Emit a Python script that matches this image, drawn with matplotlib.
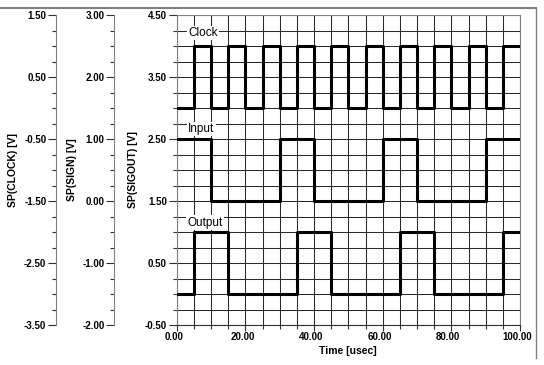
import matplotlib
matplotlib.use("Agg")
import matplotlib.pyplot as plt
import matplotlib.ticker as mticker
from matplotlib.lines import Line2D
from matplotlib.transforms import ScaledTranslation

plt.rcParams['font.family'] = ['Liberation Sans', 'DejaVu Sans']

# signal data (time in usec, logic level in V)
clock_t = [0, 5, 10, 15, 20, 25, 30, 35, 40, 45, 50, 55, 60, 65, 70, 75, 80, 85, 90, 95, 100]
clock_v = [0, 1, 0, 1, 0, 1, 0, 1, 0, 1, 0, 1, 0, 1, 0, 1, 0, 1, 0, 1, 1]
input_t = [0, 10, 30, 40, 60, 70, 90, 100]
input_v = [1, 0, 1, 0, 1, 0, 1, 1]
output_t = [0, 5, 15, 35, 45, 65, 75, 95, 100]
output_v = [0, 1, 0, 1, 0, 1, 0, 1, 1]

clock_lim = (-3.5, 1.5)
sign_lim = (-2.0, 3.0)
sigout_lim = (-0.5, 4.5)
x_ticks = [0, 20, 40, 60, 80, 100]

dpi = 100
fig = plt.figure(figsize=(544 / dpi, 365 / dpi), dpi=dpi)
rect = [176.7 / 544, 1 - 325 / 365, (520 - 176.7) / 544, (325 - 15) / 365]

spine_col = '#808080'

def style_left(a, lim, label, label_x):
    a.set_ylim(*lim)
    a.yaxis.set_major_locator(mticker.MultipleLocator(1.0, offset=lim[0] % 1.0))
    a.yaxis.set_minor_locator(mticker.MultipleLocator(0.25))
    a.yaxis.set_major_formatter(mticker.FormatStrFormatter('%.2f'))
    a.tick_params(axis='y', which='major', length=6, width=0.8, color='#303030',
                  pad=1, labelsize=7)
    a.tick_params(axis='y', which='minor', length=3, width=0.8, color='#303030')
    for t in a.get_yticklabels():
        t.set_fontweight('bold')
    a.spines['left'].set_color(spine_col)
    a.set_ylabel(label, fontsize=7.5, fontweight='bold')
    a.yaxis.set_label_coords(label_x, 0.5)

# main axis (SIGOUT)
ax = fig.add_axes(rect)
ax.set_xlim(0, 100)
ax.xaxis.set_major_locator(mticker.FixedLocator(x_ticks))
ax.xaxis.set_minor_locator(mticker.MultipleLocator(5))
ax.xaxis.set_major_formatter(mticker.FormatStrFormatter('%.2f'))
ax.tick_params(axis='x', which='major', length=4, width=0.8, color='#303030', pad=1, labelsize=7)
ax.tick_params(axis='x', which='minor', length=3, width=0.8, color='#303030')
for t in ax.get_xticklabels():
    t.set_fontweight('bold')
    t.set_transform(t.get_transform() + ScaledTranslation(-3 / dpi, 0, fig.dpi_scale_trans))
ax.set_xlabel('Time [usec]', fontsize=7.5, fontweight='bold', labelpad=3)
style_left(ax, sigout_lim, 'SP(SIGOUT) [V]', -0.113)
ax.grid(True, which='both', color='#2a2a2a', linewidth=0.75)
ax.set_axisbelow(True)
for s in ['top', 'right']:
    ax.spines[s].set_color(spine_col)
ax.spines['bottom'].set_color('#303030')
ax.plot(output_t, output_v, drawstyle='steps-post', color='black', lw=2.2, zorder=5)

# SIGN axis
ax_s = fig.add_axes(rect, sharex=ax)
ax_s.patch.set_visible(False)
for s in ['top', 'right', 'bottom']:
    ax_s.spines[s].set_visible(False)
ax_s.spines['left'].set_position(('axes', -62.4 / 343.3))
ax_s.xaxis.set_visible(False)
style_left(ax_s, sign_lim, 'SP(SIGN) [V]', -0.290)
ax_s.plot(input_t, input_v, drawstyle='steps-post', color='black', lw=2.2, zorder=5)

# CLOCK axis
ax_c = fig.add_axes(rect, sharex=ax)
ax_c.patch.set_visible(False)
for s in ['top', 'right', 'bottom']:
    ax_c.spines[s].set_visible(False)
ax_c.spines['left'].set_position(('axes', -120.7 / 343.3))
ax_c.xaxis.set_visible(False)
style_left(ax_c, clock_lim, 'SP(CLOCK) [V]', -0.462)
ax_c.plot(clock_t, clock_v, drawstyle='steps-post', color='black', lw=2.2, zorder=5)

box = dict(facecolor='white', edgecolor='none', pad=1)
ax_c.text(3.4, 1.21, 'Clock', fontsize=8.5, va='center', ha='left', bbox=box)
ax_s.text(3.4, 1.16, 'Input', fontsize=8.5, va='center', ha='left', bbox=box)
ax.text(3.2, 1.15, 'Output', fontsize=8.5, va='center', ha='left', bbox=box)

# window frame lines
fig.add_artist(Line2D([0, 535.5 / 544], [1 - 8 / 365, 1 - 8 / 365], color='#808080', lw=1.5))
fig.add_artist(Line2D([535.5 / 544, 535.5 / 544], [1 - 8 / 365, 1 - 358 / 365], color='#808080', lw=1.0))

fig.savefig('out.png', dpi=dpi)
